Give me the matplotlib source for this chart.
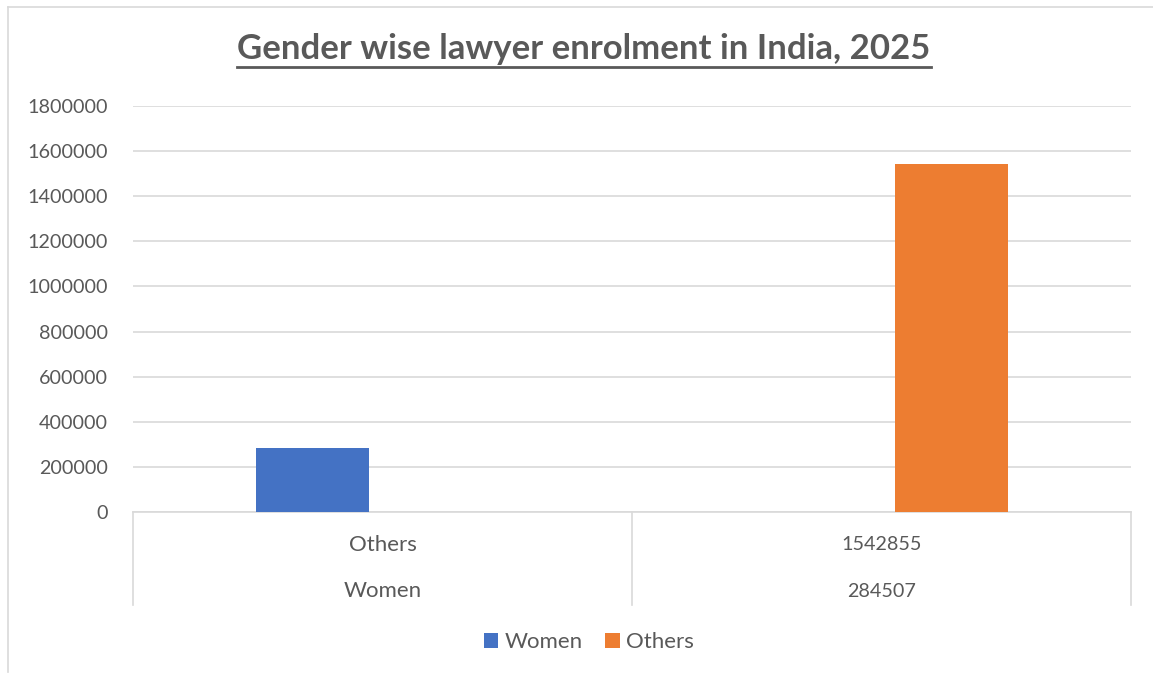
import matplotlib
matplotlib.use("Agg")
import matplotlib.pyplot as plt
from matplotlib.lines import Line2D
from matplotlib.patches import Patch
import matplotlib.transforms as mtransforms

plt.rcParams['font.family'] = ['Lato', 'DejaVu Sans']

title = "Gender wise lawyer enrolment in India, 2025"
outer_labels = ["Women", "284507"]
inner_labels = ["Others", "1542855"]
series_names = ["Women", "Others"]
women_values = [284507, 0]
others_values = [0, 1542855]
colors = ["#4472C4", "#ED7D31"]
yticks = [0, 200000, 400000, 600000, 800000, 1000000, 1200000, 1400000, 1600000, 1800000]

TXT = "#595959"
GRID = "#D9D9D9"

W, H = 1153, 675
fig = plt.figure(figsize=(W / 100, H / 100), dpi=100)
ax = fig.add_axes([133 / W, 1 - 512 / H, (1131 - 133) / W, (512 - 106) / H])

n = len(inner_labels)
xs = list(range(n))
bw = 0.2265
off = 0.14
ax.bar([x - off for x in xs], women_values, width=bw, color=colors[0], zorder=3)
ax.bar([x + off for x in xs], others_values, width=bw, color=colors[1], zorder=3)

ax.set_xlim(-0.5, n - 0.5)
ax.set_ylim(yticks[0], yticks[-1])
ax.set_yticks(yticks)
ax.set_yticklabels([str(v) for v in yticks], fontsize=14.2, color=TXT)
ax.tick_params(axis='y', length=0, pad=18)
ax.set_xticks([])
ax.yaxis.grid(True, color=GRID, linewidth=1.2, zorder=0)
for s in ['left', 'right', 'top']:
    ax.spines[s].set_visible(False)
ax.spines['bottom'].set_color(GRID)
ax.spines['bottom'].set_linewidth(1.2)

trans = mtransforms.blended_transform_factory(ax.transData, ax.transAxes)
for b in [i - 0.5 for i in range(n + 1)]:
    ax.add_line(Line2D([b, b], [0, -0.229], transform=trans, color=GRID,
                       linewidth=1.2, clip_on=False))
for i in xs:
    lbl_fs_in = 16 if not inner_labels[i].isdigit() else 14.2
    lbl_fs_out = 16 if not outer_labels[i].isdigit() else 14.2
    ax.text(i, -0.081, inner_labels[i], transform=trans, ha='center', va='center',
            fontsize=lbl_fs_in, color=TXT)
    ax.text(i, -0.195, outer_labels[i], transform=trans, ha='center', va='center',
            fontsize=lbl_fs_out, color=TXT)

t = fig.text(584 / W, 1 - 49 / H, title, ha='center', va='center', fontsize=25,
             fontweight='bold', color=TXT)
fig.canvas.draw()
bb = t.get_window_extent().transformed(fig.transFigure.inverted())
fig.add_artist(Line2D([bb.x0, bb.x1], [1 - 67 / H, 1 - 67 / H], color=TXT,
                      linewidth=2, transform=fig.transFigure))

handles = [Patch(facecolor=c) for c in colors]
leg = fig.legend(handles, series_names, loc='center', bbox_to_anchor=(589 / W, 1 - 642 / H),
                 ncol=2, frameon=False, fontsize=16, handlelength=0.65, handleheight=0.65,
                 handletextpad=0.3, columnspacing=1.0)
for tx in leg.get_texts():
    tx.set_color(TXT)

# chart border
fig.add_artist(Line2D([8 / W, 8 / W], [1 - 7 / H, 1 - 672 / H], color=GRID, linewidth=1.2,
                      transform=fig.transFigure))
fig.add_artist(Line2D([8 / W, 1], [1 - 7 / H, 1 - 7 / H], color=GRID, linewidth=1.2,
                      transform=fig.transFigure))

fig.savefig("out.png", dpi=100)
